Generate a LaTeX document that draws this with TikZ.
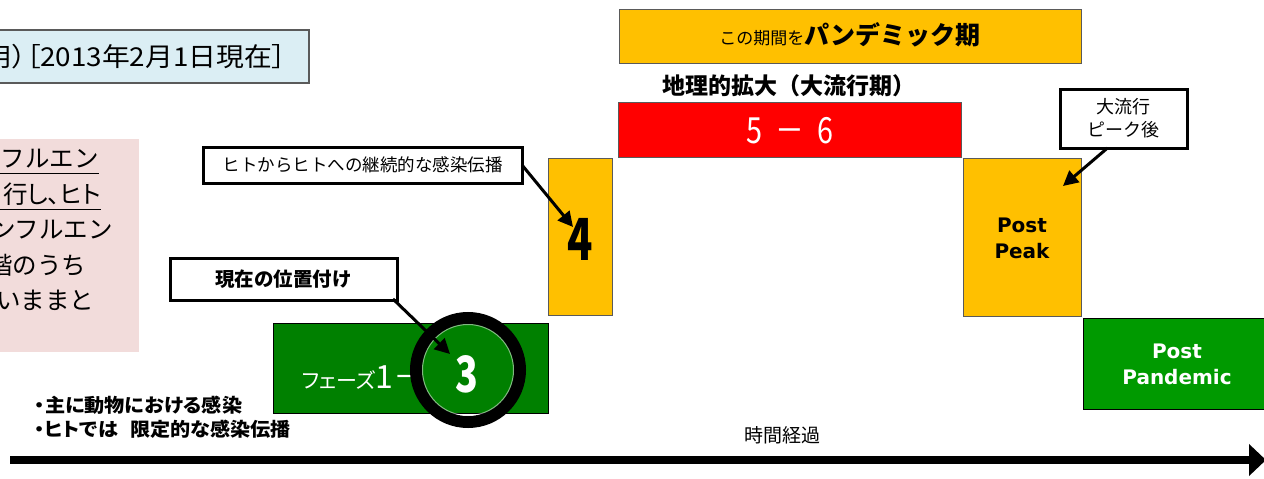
\documentclass[tikz,border=0pt]{standalone}
\usepackage{fontspec}
\setmainfont{Noto Sans CJK JP}
\newfontfamily\jp[RawFeature=+palt]{Noto Sans CJK JP}
\newfontfamily\dejavu{DejaVu Sans}
\usepackage{graphicx}
\usetikzlibrary{arrows.meta,calc}
\newcommand\fsz[2]{\fontsize{#1}{#2}\selectfont}
\definecolor{orng}{HTML}{FFC000}
\definecolor{redb}{HTML}{FF0000}
\definecolor{gdark}{HTML}{008000}
\definecolor{glight}{HTML}{009A00}
\definecolor{lblue}{HTML}{DBEEF4}
\definecolor{pinkb}{HTML}{F2DCDB}
\definecolor{edge}{HTML}{5A5A5A}
\begin{document}
\begin{tikzpicture}[x=1pt,y=-1pt,
  blk/.style={anchor=north west, inner sep=0pt, outer sep=0pt, line width=0.8pt},
  callout/.style={blk, draw=black, line width=3pt, fill=white},
  pointer/.style={line width=3pt, -{Triangle[length=15pt,width=15pt]}},
  txt/.style={inner sep=0pt, outer sep=0pt},
  pinktxt/.style={txt, anchor=west, font=\fsz{24.5}{28}}]
\useasboundingbox (0,0) rectangle (1264,479);
\clip (0,0) rectangle (1264,479);

% top-left info box
\node[blk, draw=edge, line width=1.2pt, fill=lblue, minimum width=311pt, minimum height=53pt] (info) at (-2,30) {};
\node[txt, anchor=east] (infot) at (286,57) {\scalebox{1.07}[1]{\jp\fsz{26}{30}用）［2013年2月1日現在］}};

% pink box
\node[blk, fill=pinkb, minimum width=141pt, minimum height=213pt] (pink) at (-2,139) {};
\node[pinktxt] (p1) at (1,159) {フルエン};
\node[pinktxt] (p2) at (3,194) {\jp 行し、ヒト};
\node[pinktxt] (p3) at (-9,230) {ンフルエン};
\node[pinktxt] (p4) at (-12,265) {階のうち};
\node[pinktxt] (p5) at (-4,300) {いままと};
\draw[line width=1pt] (0,173) -- (p1.east |- 0,173);
\draw[line width=1pt] (0,209) -- (p2.east |- 0,209);

% callout: human-to-human
\node[callout, minimum width=319pt, minimum height=36pt] (hito) at (203,147) {};
\node[txt] (hitot) at (hito.center) {\fsz{17.5}{20}ヒトからヒトへの継続的な感染伝播};

% phase 4
\node[blk, draw=edge, fill=orng, minimum width=64pt, minimum height=157pt] (four) at (548,158) {};
\node[txt] (fourt) at (580,239) {\scalebox{0.72}[1]{\fsz{58}{60}\bfseries 4}};
\coordinate (t4) at (573,227);
\draw[pointer] (hito.east) -- (t4);

% callout: current position
\node[callout, minimum width=227pt, minimum height=42pt] (genzai) at (170,258) {};
\node[txt] (genzait) at (genzai.center) {\fsz{19.5}{22}\bfseries 現在の位置付け};

% phase 1-3
\node[blk, draw=black, fill=gdark, minimum width=275pt, minimum height=90pt] (phase) at (273,323) {};
\node[txt, anchor=base west, text=white] (phaset) at (302,388) {\jp\fsz{21}{24}フェーズ\fsz{32}{34}1－};
\node[circle, draw=black, line width=12pt, minimum size=104pt, inner sep=0pt] (ring) at (468,370) {};
\draw[white, opacity=0.5, line width=1pt] (ring.center) circle (45.5pt);
\node[txt, text=white] (three) at (467,374) {\scalebox{0.75}[1]{\fsz{50}{52}\bfseries 3}};
\coordinate (t3) at (450,354);
\draw[pointer] ($(genzai.south east)+(-4,-1)$) -- (t3);

% notes
\node[txt, anchor=west] (n1) at (35,405) {\scalebox{1.06}[1]{\jp\fsz{19}{22}\bfseries ・主に動物における感染}};
\node[txt, anchor=west] (n2) at (35,429) {\scalebox{1.06}[1]{\jp\fsz{19}{22}\bfseries ・ヒトでは\hspace{0.6em}限定的な感染伝播}};

% pandemic period
\node[blk, draw=edge, fill=orng, minimum width=462pt, minimum height=54pt] (pan) at (619,9) {};
\node[txt, anchor=base] (pant) at (850,44) {\fsz{17}{20}この期間を\fsz{25}{28}\bfseries パンデミック期};

\node[txt] (chiri) at (789,86) {\fsz{23}{26}\bfseries 地理的拡大（大流行期）};

\node[blk, draw=edge, fill=redb, minimum width=343pt, minimum height=55pt] (red) at (618,102) {};
\node[txt, text=white] (redt) at (790,131) {\scalebox{0.8}[1]{\fsz{36}{40}5\hspace{0.45em}－\hspace{0.45em}6}};

% post peak callout
\node[callout, minimum width=127pt, minimum height=59pt] (peakc) at (1060,89) {};
\node[txt, align=center, font=\fsz{18}{23}] (peakct) at (peakc.center) {大流行\\ピーク後};

\node[blk, draw=edge, fill=orng, minimum width=118pt, minimum height=158pt] (ppeak) at (963,158) {};
\node[txt, align=center, font=\dejavu\fsz{20}{26}\bfseries] (ppeakt) at (1022,238) {Post\\Peak};
\coordinate (tpp) at (1063,186);
\draw[pointer] ($(peakc.south)+(-16,0)$) -- (tpp);

\node[blk, draw=black, fill=glight, minimum width=190pt, minimum height=91pt] (ppan) at (1083,318) {};
\node[txt, align=center, text=white, font=\dejavu\fsz{20}{26}\bfseries] (ppant) at (1177,364) {Post\\Pandemic};

% time axis
\node[txt] (jikan) at (782,435) {\fsz{19}{22}時間経過};
\coordinate (axs) at (10,460);
\coordinate (axe) at (1266,460);
\draw[line width=8pt, -{Triangle[length=17pt,width=31pt]}] (axs) -- (axe);
\end{tikzpicture}
\end{document}
